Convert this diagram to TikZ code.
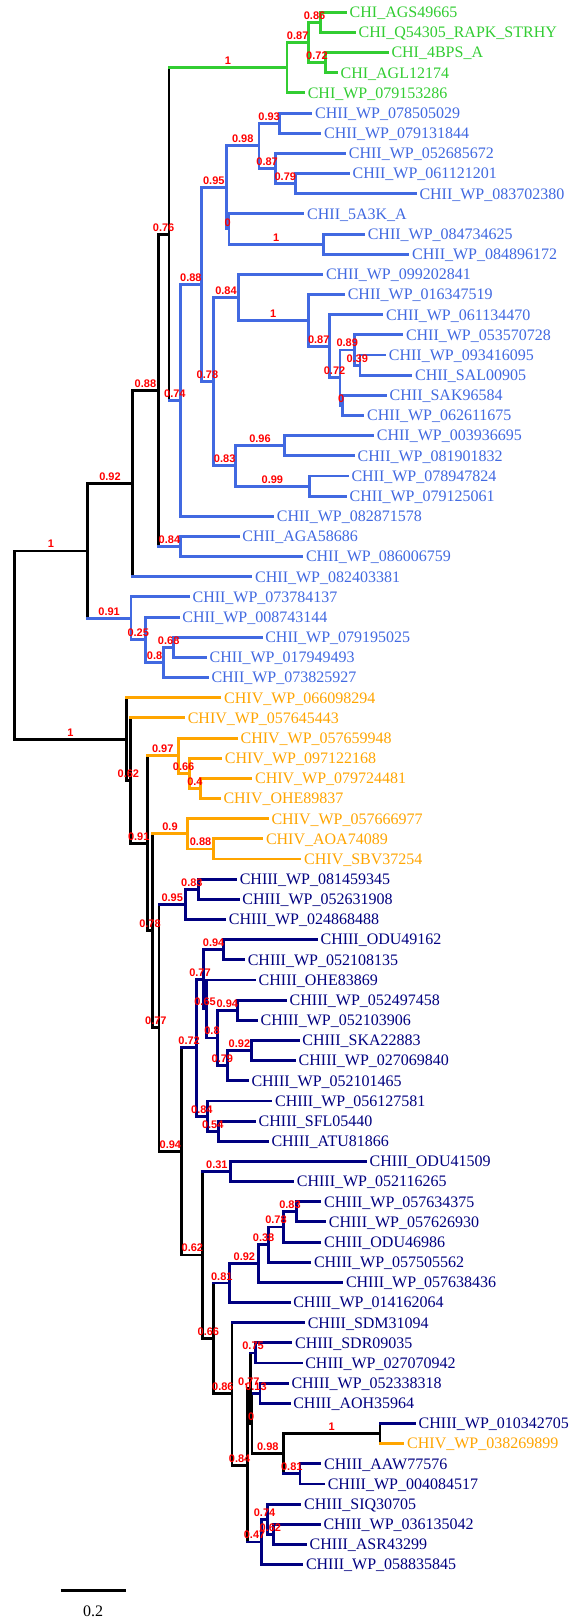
\documentclass[tikz,border=0pt]{standalone}
\usepackage{fontspec}
\setmainfont{Liberation Serif}
\newfontfamily\labfont{Liberation Sans}
\usetikzlibrary{calc}
\definecolor{cgreen}{RGB}{50,205,50}
\definecolor{cblue}{RGB}{65,105,225}
\definecolor{cnavy}{RGB}{0,0,128}
\definecolor{corange}{RGB}{255,165,0}
\definecolor{cred}{RGB}{255,0,0}
\tikzset{
  br/.style={line width=2.9pt, line cap=rect},
  leaftext/.style={anchor=base west, inner sep=0pt, font=\fontsize{16}{16}\selectfont},
  blab/.style={anchor=base, inner sep=0pt, text=cred, font=\labfont\bfseries\fontsize{11}{11}\selectfont},
}
% leaf: index, x of branch end, colour, text
\newcommand\tleaf[4]{%
  \coordinate (L#1) at (#2,{12.3+20.16*#1});
  \node[leaftext,text=#3] (t#1) at ($(L#1)+(4,5.3)$) {#4};
}
% clade: name, x, top child, top colour, bottom child, bottom colour, vertical colour
\newcommand\clade[7]{%
  \coordinate (tmpm) at ($(#3)!0.5!(#5)$);
  \coordinate (tmpx) at (#2,0);
  \coordinate (#1) at (tmpx |- tmpm);
  \draw[br,draw=#7] (#1 |- #3) -- (#1 |- #5);
  \draw[br,draw=#4] (#1 |- #3) -- (#3);
  \draw[br,draw=#6] (#1 |- #5) -- (#5);
}
% support label on the branch parent -> child
\newcommand\blabel[3]{%
  \path ($(#1 |- #2)!0.5!(#2)$) ++(0,-3) node[blab] (lb#2) {#3};
}
\begin{document}
\begin{tikzpicture}[x=1pt,y=-1pt]
\fill[white] (0,0) rectangle (568,1620);
\useasboundingbox (0,0) rectangle (568,1620);
% ---------------- leaves
\tleaf{0}{345.5}{cgreen}{CHI\_AGS49665}
\tleaf{1}{354.5}{cgreen}{CHI\_Q54305\_RAPK\_STRHY}
\tleaf{2}{387.3}{cgreen}{CHI\_4BPS\_A}
\tleaf{3}{336.4}{cgreen}{CHI\_AGL12174}
\tleaf{4}{303.6}{cgreen}{CHI\_WP\_079153286}
\tleaf{5}{311}{cblue}{CHII\_WP\_078505029}
\tleaf{6}{320}{cblue}{CHII\_WP\_079131844}
\tleaf{7}{344.7}{cblue}{CHII\_WP\_052685672}
\tleaf{8}{348.4}{cblue}{CHII\_WP\_061121201}
\tleaf{9}{415.3}{cblue}{CHII\_WP\_083702380}
\tleaf{10}{303}{cblue}{CHII\_5A3K\_A}
\tleaf{11}{363.6}{cblue}{CHII\_WP\_084734625}
\tleaf{12}{408}{cblue}{CHII\_WP\_084896172}
\tleaf{13}{321.8}{cblue}{CHII\_WP\_099202841}
\tleaf{14}{343.6}{cblue}{CHII\_WP\_016347519}
\tleaf{15}{381.8}{cblue}{CHII\_WP\_061134470}
\tleaf{16}{401.8}{cblue}{CHII\_WP\_053570728}
\tleaf{17}{384.7}{cblue}{CHII\_WP\_093416095}
\tleaf{18}{410.9}{cblue}{CHII\_SAL00905}
\tleaf{19}{385.5}{cblue}{CHII\_SAK96584}
\tleaf{20}{363}{cblue}{CHII\_WP\_062611675}
\tleaf{21}{372.7}{cblue}{CHII\_WP\_003936695}
\tleaf{22}{353.5}{cblue}{CHII\_WP\_081901832}
\tleaf{23}{347.3}{cblue}{CHII\_WP\_078947824}
\tleaf{24}{345.5}{cblue}{CHII\_WP\_079125061}
\tleaf{25}{272.7}{cblue}{CHII\_WP\_082871578}
\tleaf{26}{238.2}{cblue}{CHII\_AGA58686}
\tleaf{27}{301.8}{cblue}{CHII\_WP\_086006759}
\tleaf{28}{251}{cblue}{CHII\_WP\_082403381}
\tleaf{29}{188.4}{cblue}{CHII\_WP\_073784137}
\tleaf{30}{178.2}{cblue}{CHII\_WP\_008743144}
\tleaf{31}{261.1}{cblue}{CHII\_WP\_079195025}
\tleaf{32}{205.5}{cblue}{CHII\_WP\_017949493}
\tleaf{33}{207.3}{cblue}{CHII\_WP\_073825927}
\tleaf{34}{220}{corange}{CHIV\_WP\_066098294}
\tleaf{35}{183.6}{corange}{CHIV\_WP\_057645443}
\tleaf{36}{236.4}{corange}{CHIV\_WP\_057659948}
\tleaf{37}{220.7}{corange}{CHIV\_WP\_097122168}
\tleaf{38}{250.9}{corange}{CHIV\_WP\_079724481}
\tleaf{39}{219.3}{corange}{CHIV\_OHE89837}
\tleaf{40}{267.3}{corange}{CHIV\_WP\_057666977}
\tleaf{41}{261.8}{corange}{CHIV\_AOA74089}
\tleaf{42}{300}{corange}{CHIV\_SBV37254}
\tleaf{43}{235.6}{cnavy}{CHIII\_WP\_081459345}
\tleaf{44}{238.2}{cnavy}{CHIII\_WP\_052631908}
\tleaf{45}{224.7}{cnavy}{CHIII\_WP\_024868488}
\tleaf{46}{316.4}{cnavy}{CHIII\_ODU49162}
\tleaf{47}{243.6}{cnavy}{CHIII\_WP\_052108135}
\tleaf{48}{254.5}{cnavy}{CHIII\_OHE83869}
\tleaf{49}{285.5}{cnavy}{CHIII\_WP\_052497458}
\tleaf{50}{256.4}{cnavy}{CHIII\_WP\_052103906}
\tleaf{51}{298.2}{cnavy}{CHIII\_SKA22883}
\tleaf{52}{294.5}{cnavy}{CHIII\_WP\_027069840}
\tleaf{53}{247.3}{cnavy}{CHIII\_WP\_052101465}
\tleaf{54}{270.9}{cnavy}{CHIII\_WP\_056127581}
\tleaf{55}{254.5}{cnavy}{CHIII\_SFL05440}
\tleaf{56}{267.3}{cnavy}{CHIII\_ATU81866}
\tleaf{57}{365.5}{cnavy}{CHIII\_ODU41509}
\tleaf{58}{292.7}{cnavy}{CHIII\_WP\_052116265}
\tleaf{59}{320}{cnavy}{CHIII\_WP\_057634375}
\tleaf{60}{324.7}{cnavy}{CHIII\_WP\_057626930}
\tleaf{61}{320}{cnavy}{CHIII\_ODU46986}
\tleaf{62}{309.8}{cnavy}{CHIII\_WP\_057505562}
\tleaf{63}{341.8}{cnavy}{CHIII\_WP\_057638436}
\tleaf{64}{289.1}{cnavy}{CHIII\_WP\_014162064}
\tleaf{65}{303.6}{cnavy}{CHIII\_SDM31094}
\tleaf{66}{290.9}{cnavy}{CHIII\_SDR09035}
\tleaf{67}{301.1}{cnavy}{CHIII\_WP\_027070942}
\tleaf{68}{287.3}{cnavy}{CHIII\_WP\_052338318}
\tleaf{69}{289.1}{cnavy}{CHIII\_AOH35964}
\tleaf{70}{414.5}{cnavy}{CHIII\_WP\_010342705}
\tleaf{71}{403}{corange}{CHIV\_WP\_038269899}
\tleaf{72}{320}{cnavy}{CHIII\_AAW77576}
\tleaf{73}{323.6}{cnavy}{CHIII\_WP\_004084517}
\tleaf{74}{300}{cnavy}{CHIII\_SIQ30705}
\tleaf{75}{319.3}{cnavy}{CHIII\_WP\_036135042}
\tleaf{76}{305.5}{cnavy}{CHIII\_ASR43299}
\tleaf{77}{301.8}{cnavy}{CHIII\_WP\_058835845}
% ---------------- CHI
\clade{G86}{320.7}{L0}{cgreen}{L1}{cgreen}{cgreen}
\clade{G72}{325.5}{L2}{cgreen}{L3}{cgreen}{cgreen}
\clade{G87}{308.4}{G86}{cgreen}{G72}{cgreen}{cgreen}
\clade{Gr}{287}{G87}{cgreen}{L4}{cgreen}{cgreen}
% ---------------- CHII
\clade{J}{279.3}{L5}{cblue}{L6}{cblue}{cblue}
\clade{K79}{295.3}{L8}{cblue}{L9}{cblue}{cblue}
\clade{K}{275.3}{L7}{cblue}{K79}{cblue}{cblue}
\clade{I}{259}{J}{cblue}{K}{cblue}{cblue}
\clade{M}{323.6}{L11}{cblue}{L12}{cblue}{cblue}
\clade{Z0}{229}{L10}{cblue}{M}{cblue}{cblue}
\clade{G}{226.5}{I}{cblue}{Z0}{cblue}{cblue}
\clade{T}{360}{L17}{cblue}{L18}{cblue}{cblue}
\clade{R}{354.5}{L16}{cblue}{T}{cblue}{cblue}
\clade{S}{342.5}{L19}{cblue}{L20}{cblue}{cblue}
\clade{Q}{340}{R}{cblue}{S}{cblue}{cblue}
\clade{P}{329.1}{L15}{cblue}{Q}{cblue}{cblue}
\clade{O}{308.4}{L14}{cblue}{P}{cblue}{cblue}
\clade{N}{238.2}{L13}{cblue}{O}{cblue}{cblue}
\clade{V}{284.4}{L21}{cblue}{L22}{cblue}{cblue}
\clade{W}{309.1}{L23}{cblue}{L24}{cblue}{cblue}
\clade{U}{235.6}{V}{cblue}{W}{cblue}{cblue}
\clade{H}{213.8}{N}{cblue}{U}{cblue}{cblue}
\clade{F}{201.1}{G}{cblue}{H}{cblue}{cblue}
\clade{E}{180.7}{F}{cblue}{L25}{cblue}{cblue}
\clade{C}{169}{Gr}{cgreen}{E}{cblue}{black}
\clade{D}{180.7}{L26}{cblue}{L27}{cblue}{cblue}
\clade{B}{158.2}{C}{black}{D}{cblue}{black}
\clade{A}{132.7}{B}{black}{L28}{cblue}{black}
\clade{AA}{173.8}{L31}{cblue}{L32}{cblue}{cblue}
\clade{Zn}{163.6}{AA}{cblue}{L33}{cblue}{cblue}
\clade{Y}{145.5}{L30}{cblue}{Zn}{cblue}{cblue}
\clade{X}{131}{L29}{cblue}{Y}{cblue}{cblue}
\clade{T1}{87.3}{A}{black}{X}{cblue}{black}
% ---------------- CHIV / CHIII
\clade{FF}{200.7}{L38}{corange}{L39}{corange}{corange}
\clade{EE}{189.1}{L37}{corange}{FF}{corange}{corange}
\clade{DD}{178.2}{L36}{corange}{EE}{corange}{corange}
\clade{HH}{213.8}{L41}{corange}{L42}{corange}{corange}
\clade{GG}{187.3}{L40}{corange}{HH}{corange}{corange}
\clade{LL}{198.2}{L43}{cnavy}{L44}{cnavy}{cnavy}
\clade{KK}{185.5}{LL}{cnavy}{L45}{cnavy}{cnavy}
\clade{RR}{223.6}{L46}{cnavy}{L47}{cnavy}{cnavy}
\clade{UU}{237.1}{L49}{cnavy}{L50}{cnavy}{cnavy}
\clade{WW}{251.6}{L51}{cnavy}{L52}{cnavy}{cnavy}
\clade{VV}{227.3}{WW}{cnavy}{L53}{cnavy}{cnavy}
\clade{TT}{217.5}{UU}{cnavy}{VV}{cnavy}{cnavy}
\clade{SS}{206.5}{L48}{cnavy}{TT}{cnavy}{cnavy}
\clade{PP}{203.6}{RR}{cnavy}{SS}{cnavy}{cnavy}
\clade{XX}{218.2}{L55}{cnavy}{L56}{cnavy}{cnavy}
\clade{QQ}{207.3}{L54}{cnavy}{XX}{cnavy}{cnavy}
\clade{NN}{196.4}{PP}{cnavy}{QQ}{cnavy}{cnavy}
\clade{YY}{230.9}{L57}{cnavy}{L58}{cnavy}{cnavy}
\clade{AF}{296.4}{L59}{cnavy}{L60}{cnavy}{cnavy}
\clade{AE}{283.6}{AF}{cnavy}{L61}{cnavy}{cnavy}
\clade{AD}{268.4}{AE}{cnavy}{L62}{cnavy}{cnavy}
\clade{AC}{258.9}{AD}{cnavy}{L63}{cnavy}{cnavy}
\clade{AB}{229.8}{AC}{cnavy}{L64}{cnavy}{cnavy}
\clade{A10}{255.6}{L66}{cnavy}{L67}{cnavy}{cnavy}
\clade{A12}{260}{L68}{cnavy}{L69}{cnavy}{cnavy}
\clade{B2}{380}{L70}{cnavy}{L71}{corange}{black}
\clade{B3}{300}{L72}{cnavy}{L73}{cnavy}{cnavy}
\clade{B1}{283.6}{B2}{black}{B3}{cnavy}{black}
\clade{A11}{252}{A12}{cnavy}{B1}{black}{black}
\clade{A9}{250.5}{A10}{cnavy}{A11}{black}{black}
\clade{B5}{273.5}{L75}{cnavy}{L76}{cnavy}{cnavy}
\clade{B4}{267.3}{L74}{cnavy}{B5}{cnavy}{cnavy}
\clade{A8}{261.8}{B4}{cnavy}{L77}{cnavy}{cnavy}
\clade{A7}{247.3}{A9}{black}{A8}{cnavy}{black}
\clade{A2}{232}{L65}{cnavy}{A7}{black}{black}
\clade{ZZ}{213.8}{AB}{cnavy}{A2}{black}{black}
\clade{OO}{202.9}{YY}{cnavy}{ZZ}{black}{black}
\clade{MM}{181.8}{NN}{cnavy}{OO}{black}{black}
\clade{JJ}{159}{KK}{cnavy}{MM}{black}{black}
\clade{II}{152.7}{GG}{corange}{JJ}{black}{black}
\clade{CC}{147.3}{DD}{corange}{II}{black}{black}
\clade{BB2}{130.2}{L35}{corange}{CC}{black}{black}
\clade{BB}{126.5}{L34}{corange}{BB2}{black}{black}
% ---------------- root
\clade{R0}{14.5}{T1}{black}{BB}{black}{black}
% ---------------- support values
\blabel{C}{Gr}{1}
\blabel{Gr}{G87}{0.87}
\blabel{G87}{G86}{0.86}
\blabel{G87}{G72}{0.72}
\blabel{I}{J}{0.93}
\blabel{G}{I}{0.98}
\blabel{I}{K}{0.87}
\blabel{K}{K79}{0.79}
\blabel{F}{G}{0.95}
\blabel{G}{Z0}{0}
\blabel{Z0}{M}{1}
\blabel{E}{F}{0.88}
\blabel{F}{H}{0.78}
\blabel{H}{N}{0.84}
\blabel{N}{O}{1}
\blabel{O}{P}{0.87}
\blabel{P}{Q}{0.72}
\blabel{Q}{R}{0.89}
\blabel{R}{T}{0.39}
\blabel{Q}{S}{0}
\blabel{H}{U}{0.83}
\blabel{U}{V}{0.96}
\blabel{U}{W}{0.99}
\blabel{C}{E}{0.74}
\blabel{B}{C}{0.76}
\blabel{A}{B}{0.88}
\blabel{B}{D}{0.84}
\blabel{T1}{A}{0.92}
\blabel{R0}{T1}{1}
\blabel{T1}{X}{0.91}
\blabel{X}{Y}{0.25}
\blabel{Y}{Zn}{0.8}
\blabel{Zn}{AA}{0.68}
\blabel{R0}{BB}{1}
\blabel{BB}{BB2}{0.62}
\blabel{CC}{DD}{0.97}
\blabel{DD}{EE}{0.66}
\blabel{EE}{FF}{0.4}
\blabel{BB2}{CC}{0.91}
\blabel{II}{GG}{0.9}
\blabel{GG}{HH}{0.88}
\blabel{CC}{II}{0.78}
\blabel{JJ}{KK}{0.95}
\blabel{KK}{LL}{0.83}
\blabel{II}{JJ}{0.77}
\blabel{PP}{RR}{0.94}
\blabel{NN}{PP}{0.77}
\blabel{PP}{SS}{0.65}
\blabel{SS}{TT}{0.8}
\blabel{TT}{UU}{0.94}
\blabel{VV}{WW}{0.92}
\blabel{TT}{VV}{0.79}
\blabel{MM}{NN}{0.72}
\blabel{NN}{QQ}{0.84}
\blabel{QQ}{XX}{0.54}
\blabel{JJ}{MM}{0.94}
\blabel{OO}{YY}{0.31}
\blabel{MM}{OO}{0.62}
\blabel{AE}{AF}{0.83}
\blabel{AD}{AE}{0.78}
\blabel{AC}{AD}{0.38}
\blabel{AB}{AC}{0.92}
\blabel{ZZ}{AB}{0.81}
\blabel{OO}{ZZ}{0.66}
\blabel{A9}{A10}{0.75}
\blabel{ZZ}{A2}{0.86}
\blabel{A7}{A9}{0.77}
\blabel{A11}{A12}{0.13}
\blabel{A9}{A11}{0}
\blabel{B1}{B2}{1}
\blabel{A11}{B1}{0.98}
\blabel{B1}{B3}{0.81}
\blabel{A2}{A7}{0.84}
\blabel{A8}{B4}{0.74}
\blabel{B4}{B5}{0.62}
\blabel{A7}{A8}{0.47}
% ---------------- scale bar
\coordinate (sbl) at (60.7,1590.7);
\coordinate (sbr) at (125.5,1590.7);
\draw[br,line cap=butt] (sbl) -- (sbr);
\node[anchor=base,inner sep=0pt,font=\fontsize{16}{16}\selectfont] (sbt) at (93.1,1616.5) {0.2};
\end{tikzpicture}
\end{document}
